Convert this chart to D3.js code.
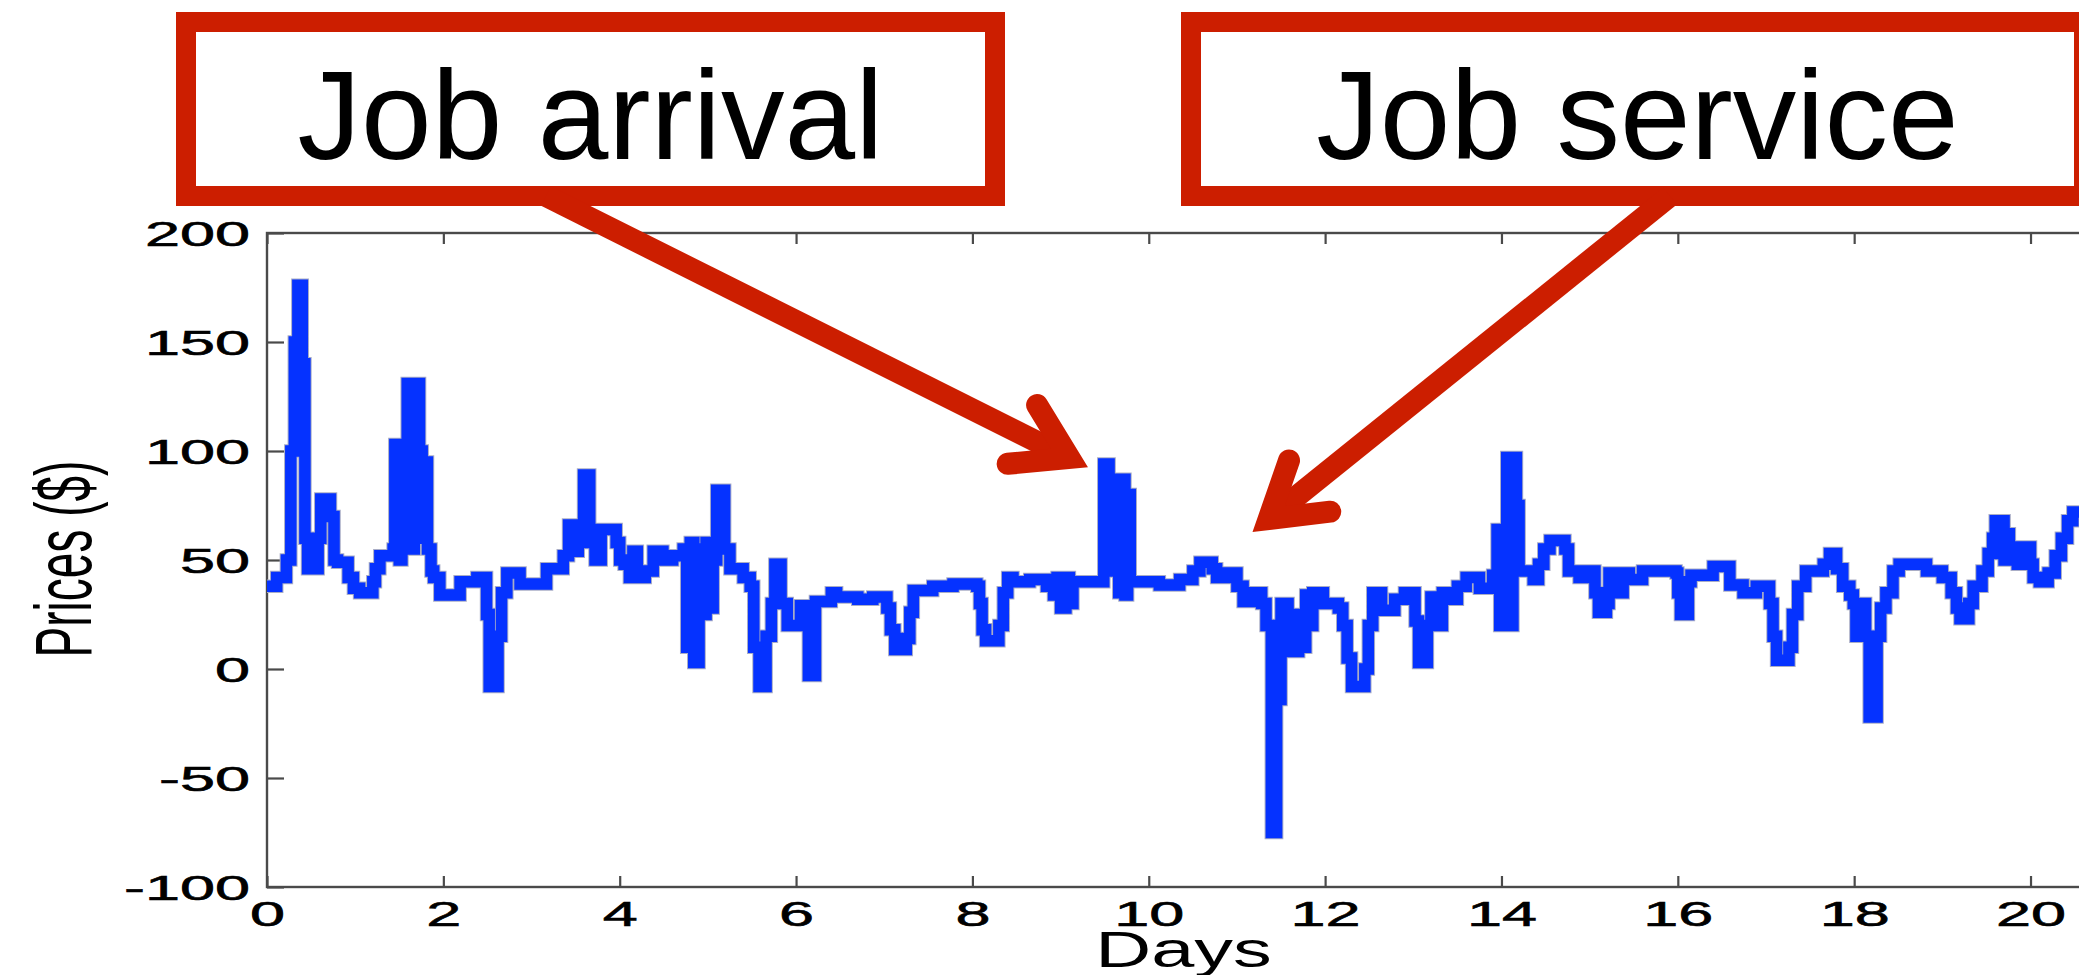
<!DOCTYPE html>
<html>
<head>
<meta charset="utf-8">
<script src="https://cdn.jsdelivr.net/npm/d3@7"></script>
<style>
  body { margin: 0; background: #fff; }
  text { font-family: "Liberation Sans", Arial, Helvetica, sans-serif; }
</style>
</head>
<body>
<div id="chart"></div>
<script>
// DATA (days, price in $)
var days = [
  0.00, 0.11, 0.22, 0.27, 0.31, 0.35, 0.40, 0.43, 0.46, 0.58, 0.61, 0.72, 0.76, 0.80, 0.92, 0.98,
  1.05, 1.20, 1.23, 1.28, 1.43, 1.45, 1.50, 1.53, 1.59, 1.64, 1.67, 1.73, 1.76, 1.79, 1.82, 1.86,
  1.89, 1.96, 2.19, 2.38, 2.49, 2.52, 2.62, 2.66, 2.72, 2.87, 3.17, 3.36, 3.42, 3.48, 3.53, 3.59,
  3.66, 3.72, 3.79, 3.96, 4.00, 4.05, 4.11, 4.15, 4.20, 4.29, 4.38, 4.49, 4.60, 4.72, 4.76, 4.80,
  4.84, 4.90, 4.93, 4.98, 5.02, 5.06, 5.10, 5.19, 5.25, 5.40, 5.48, 5.52, 5.58, 5.66, 5.72, 5.76,
  5.83, 5.90, 6.05, 6.14, 6.22, 6.40, 6.46, 6.70, 6.87, 7.03, 7.07, 7.12, 7.25, 7.29, 7.33, 7.55,
  7.78, 8.05, 8.08, 8.11, 8.15, 8.30, 8.35, 8.40, 8.46, 8.65, 8.84, 8.92, 8.96, 9.00, 9.06, 9.10,
  9.14, 9.49, 9.55, 9.57, 9.60, 9.66, 9.68, 9.73, 9.76, 9.79, 10.12, 10.35, 10.50, 10.58, 10.72, 10.77,
  10.88, 11.00, 11.07, 11.20, 11.28, 11.33, 11.39, 11.45, 11.50, 11.58, 11.70, 11.74, 11.78, 11.82, 11.86, 11.98,
  12.15, 12.20, 12.25, 12.30, 12.45, 12.49, 12.54, 12.64, 12.79, 12.90, 13.02, 13.06, 13.16, 13.20, 13.28, 13.33,
  13.41, 13.50, 13.60, 13.75, 13.90, 13.95, 13.98, 14.06, 14.10, 14.13, 14.17, 14.20, 14.36, 14.42, 14.48, 14.55,
  14.72, 14.76, 14.88, 15.00, 15.06, 15.10, 15.19, 15.22, 15.30, 15.38, 15.45, 15.60, 15.98, 16.00, 16.03, 16.12,
  16.15, 16.40, 16.59, 16.74, 16.89, 17.04, 17.08, 17.12, 17.26, 17.30, 17.36, 17.45, 17.65, 17.72, 17.80, 17.87,
  17.95, 17.99, 18.02, 18.10, 18.13, 18.17, 18.26, 18.30, 18.36, 18.44, 18.51, 18.82, 19.00, 19.10, 19.16, 19.20,
  19.30, 19.35, 19.45, 19.52, 19.57, 19.60, 19.70, 19.73, 19.76, 19.85, 19.90, 20.00, 20.03, 20.10, 20.20, 20.28,
  20.35, 20.42, 20.48, 20.60
];
var prices = [
  38, 42, 50, 100, 150, 176, 140, 60, 46, 60, 78, 70, 50, 49, 42, 37,
  35, 40, 46, 52, 55, 103, 50, 103, 131, 55, 131, 100, 60, 95, 55, 45,
  42, 34, 40, 42, 25, -8, 15, 35, 44, 39, 46, 52, 66, 54, 66, 89,
  58, 50, 64, 58, 50, 48, 42, 54, 42, 45, 54, 50, 52, 55, 10, 58,
  3, 55, 25, 58, 28, 50, 82, 55, 46, 42, 38, 10, -8, 15, 30, 48,
  30, 20, 29, -3, 31, 35, 33, 32, 33, 28, 18, 9, 14, 26, 36, 38,
  39, 38, 30, 18, 13, 20, 35, 42, 40, 41, 38, 34, 42, 28, 42, 30,
  40, 94, 45, 73, 87, 35, 87, 34, 80, 40, 38.5, 41, 45, 49, 46, 42,
  44, 38, 31, 35, 30, 20, -75, -14, 30, 8, 25, 10, 34, 20, 35, 30,
  28, 20, 5, -8, 0, 20, 35, 27, 32, 35, 22, 3, 20, 33, 20, 35,
  32, 38, 42, 37, 43, 64, 20, 97, 20, 97, 75, 45, 41, 48, 55, 59,
  55, 45, 42, 45, 35, 26, 30, 44, 35, 44, 41, 45, 44, 35, 25, 40,
  43, 47, 38.5, 35, 38, 30, 15, 4, 10, 25, 38, 45, 48, 53, 46, 38,
  34, 30, 15, 30, 15, -22, 15, 28, 35, 45, 48, 45, 42, 35, 28, 23,
  30, 38, 45, 53, 60, 68, 50, 62, 56, 48, 56, 48, 42, 40, 44, 52,
  60, 68, 72, 72
];

var xTicks = [0, 2, 4, 6, 8, 10, 12, 14, 16, 18, 20];
var yTicks = [-100, -50, 0, 50, 100, 150, 200];
var xDomain = [0, 500 / 24];
var yDomain = [-100, 200];

var calloutLabels = ["Job arrival", "Job service"];
var calloutTipDays = [9.10, 11.36];
var calloutTipPrices = [96.8, 68.8];

var svgWidth = 2079;
var svgHeight = 975;

var margin = { top: 233, left: 267 };
var plotWidth = 1837;
var plotHeight = 654;

var svg = d3.select("#chart")
    .append("svg")
    .attr("width", svgWidth)
    .attr("height", svgHeight)
    .style("display", "block");

svg.append("rect")
    .attr("width", svgWidth)
    .attr("height", svgHeight)
    .attr("fill", "#fff");

var chartGroup = svg.append("g")
    .attr("transform", `translate(${margin.left}, ${margin.top})`);

// scales
var xScale = d3.scaleLinear().domain(xDomain).range([0, plotWidth]);
var yScale = d3.scaleLinear().domain(yDomain).range([plotHeight, 0]);

var axisColor = "#4a4a4a";
var labelStretch = 1.75;
// plain hyphen for negatives, like the original figure
var plainFormat = d => String(d);

// bottom axis, ticks point inside
var xAxis = d3.axisBottom(xScale)
    .tickValues(xTicks)
    .tickSizeInner(-11)
    .tickSizeOuter(0)
    .tickFormat(plainFormat);

var xAxisGroup = chartGroup.append("g")
    .attr("transform", `translate(0, ${plotHeight})`)
    .call(xAxis);
xAxisGroup.select(".domain").remove();
xAxisGroup.selectAll(".tick line").attr("stroke", axisColor).attr("stroke-width", 2.2);
xAxisGroup.selectAll(".tick text")
    .attr("y", 39)
    .attr("dy", 0)
    .attr("fill", "#000")
    .attr("stroke", "#000")
    .attr("stroke-width", 0.6)
    .style("font-size", "36px")
    .attr("transform", `scale(${labelStretch},1)`);

// top axis (ticks only)
var xAxisTop = chartGroup.append("g")
    .call(d3.axisTop(xScale).tickValues(xTicks).tickSizeInner(-11).tickSizeOuter(0).tickFormat(""));
xAxisTop.select(".domain").remove();
xAxisTop.selectAll(".tick line").attr("stroke", axisColor).attr("stroke-width", 2.2);

// left axis
var yAxis = d3.axisLeft(yScale)
    .tickValues(yTicks)
    .tickSizeInner(-17)
    .tickSizeOuter(0)
    .tickFormat(plainFormat);

var yAxisGroup = chartGroup.append("g").call(yAxis);
yAxisGroup.select(".domain").remove();
yAxisGroup.selectAll(".tick line").attr("stroke", axisColor).attr("stroke-width", 2.2);
yAxisGroup.selectAll(".tick text")
    .attr("x", -17 / labelStretch)
    .attr("dy", "0.36em")
    .attr("fill", "#000")
    .attr("stroke", "#000")
    .attr("stroke-width", 0.6)
    .style("font-size", "36px")
    .attr("transform", `scale(${labelStretch},1)`);

// right axis (ticks only)
var yAxisRight = chartGroup.append("g")
    .attr("transform", `translate(${plotWidth}, 0)`)
    .call(d3.axisRight(yScale).tickValues(yTicks).tickSizeInner(-17).tickSizeOuter(0).tickFormat(""));
yAxisRight.select(".domain").remove();
yAxisRight.selectAll(".tick line").attr("stroke", axisColor).attr("stroke-width", 2.2);

// box
chartGroup.append("rect")
    .attr("width", plotWidth)
    .attr("height", plotHeight)
    .attr("fill", "none")
    .attr("stroke", axisColor)
    .attr("stroke-width", 2.4);

// price series
var series = days.map(function(d, i) { return [d, prices[i]]; });

var priceLine = d3.line()
    .x(d => xScale(d[0]))
    .y(d => yScale(d[1]))
    .curve(d3.curveStepAfter);

chartGroup.append("path")
    .datum(series)
    .attr("d", priceLine)
    .attr("fill", "none")
    .attr("stroke", "#a9adc6")
    .attr("stroke-width", 13.5)
    .attr("stroke-linejoin", "miter");

chartGroup.append("path")
    .datum(series)
    .attr("d", priceLine)
    .attr("fill", "none")
    .attr("stroke", "#0532ff")
    .attr("stroke-width", 11.5)
    .attr("stroke-linejoin", "miter");

// axis titles
chartGroup.append("text")
    .attr("transform", `translate(${(plotWidth / 2) - 2}, ${plotHeight + 80}) scale(1.55,1)`)
    .attr("text-anchor", "middle")
    .style("font-size", "50px")
    .attr("fill", "#000")
    .text("Days");

svg.append("text")
    .attr("transform", "translate(91, 559) rotate(-90) scale(1,1.75)")
    .attr("text-anchor", "middle")
    .style("font-size", "46px")
    .attr("fill", "#000")
    .text("Prices ($)");

// callout boxes with arrows
var red = "#cc1e00";
var boxes = [
    { x: 186, w: 809 },
    { x: 1191, w: 893 }
];
var boxTop = 22, boxHeight = 174, boxBottom = boxTop + boxHeight;
var tails = [[546, boxBottom], [1670, boxBottom]];

boxes.forEach(function(b, i) {
    svg.append("rect")
        .attr("x", b.x)
        .attr("y", boxTop)
        .attr("width", b.w)
        .attr("height", boxHeight)
        .attr("fill", "#fff")
        .attr("stroke", red)
        .attr("stroke-width", 20);

    svg.append("text")
        .attr("x", b.x + b.w / 2)
        .attr("y", 159)
        .attr("text-anchor", "middle")
        .style("font-size", "127px")
        .attr("fill", "#000")
        .text(calloutLabels[i]);

    var tipX = margin.left + xScale(calloutTipDays[i]);
    var tipY = margin.top + yScale(calloutTipPrices[i]);
    var tail = tails[i];
    var ang = Math.atan2(tipY - tail[1], tipX - tail[0]);
    var back = ang + Math.PI;
    var spread = 32 * Math.PI / 180;
    var barb = 62;

    svg.append("line")
        .attr("x1", tail[0]).attr("y1", tail[1])
        .attr("x2", tipX).attr("y2", tipY)
        .attr("stroke", red)
        .attr("stroke-width", 22);

    var head = [
        [tipX + barb * Math.cos(back - spread), tipY + barb * Math.sin(back - spread)],
        [tipX, tipY],
        [tipX + barb * Math.cos(back + spread), tipY + barb * Math.sin(back + spread)]
    ];
    svg.append("path")
        .attr("d", d3.line()(head))
        .attr("fill", "none")
        .attr("stroke", red)
        .attr("stroke-width", 22)
        .attr("stroke-linecap", "round")
        .attr("stroke-linejoin", "miter")
        .attr("stroke-miterlimit", 10);
});
</script>
</body>
</html>
